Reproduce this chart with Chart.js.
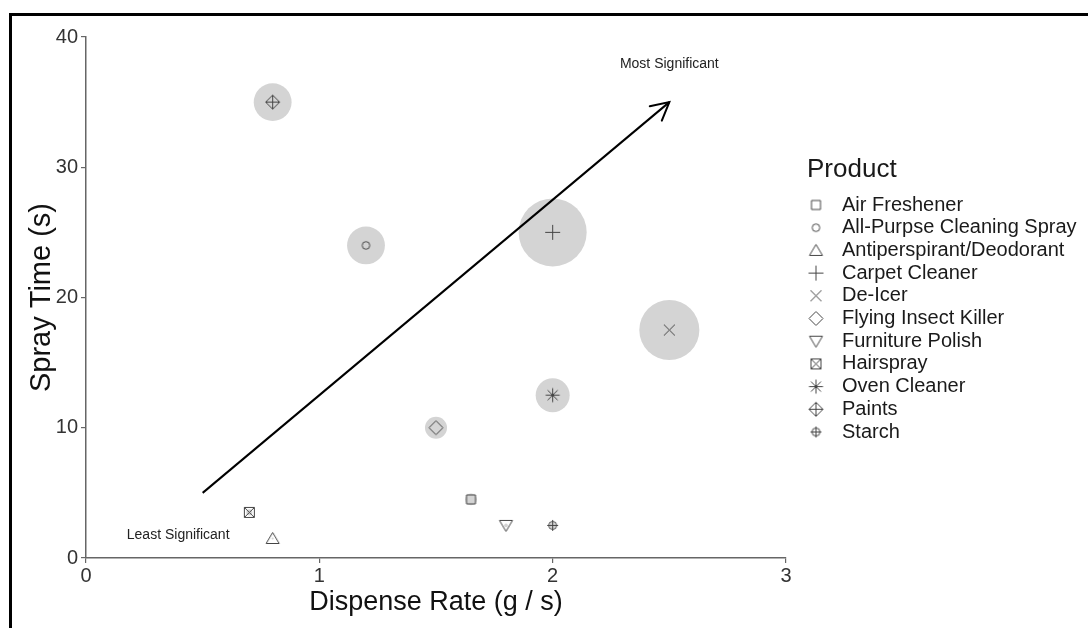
<!DOCTYPE html>
<html>
<head>
<meta charset="utf-8">
<script src="https://cdn.jsdelivr.net/npm/chart.js@4.4.1/dist/chart.umd.min.js"></script>
<style>
  html, body { margin: 0; padding: 0; background: #fff; overflow: hidden; }
  #wrap { position: relative; width: 1088px; height: 628px; }
  #frame { position: absolute; left: 9px; top: 13px; width: 1200px; height: 800px;
           border-top: 3px solid #000; border-left: 3px solid #000; pointer-events: none; }
  canvas { position: absolute; left: 0; top: 0; }
</style>
</head>
<body>
<div id="wrap">
  <canvas id="c" width="1088" height="628"></canvas>
  <div id="frame"></div>
</div>
<script>
// ---------------- data ----------------
const categories = ['Air Freshener', 'All-Purpse Cleaning Spray', 'Antiperspirant/Deodorant',
  'Carpet Cleaner', 'De-Icer', 'Flying Insect Killer', 'Furniture Polish', 'Hairspray',
  'Oven Cleaner', 'Paints', 'Starch'];
const dispenseRate = [1.65, 1.2, 0.8, 2.0, 2.5, 1.5, 1.8, 0.7, 2.0, 0.8, 2.0];
const sprayTime    = [4.5, 24, 1.5, 25, 17.5, 10, 2.5, 3.5, 12.5, 35, 2.5];
const bubbleSize   = [3, 31, 0.1, 100, 78, 10.5, 0.3, 0.8, 25, 31, 0.8];
const markerShapes = ['square', 'circle', 'triangle', 'plus', 'cross', 'diamond',
  'triangleDown', 'squareCross', 'asterisk', 'diamondPlus', 'circlePlus'];
const xTicks = [0, 1, 2, 3];
const yTicks = [0, 10, 20, 30, 40];
const arrowX = [0.5, 2.5];
const arrowY = [5, 35];
const noteText = ['Most Significant', 'Least Significant'];
const noteX = [2.5, 0.395];
const noteY = [37.9, 1.77];
const legendTitle = 'Product';
const xTitle = 'Dispense Rate (g / s)';
const yTitle = 'Spray Time (s)';

// ---------------- marker glyphs ----------------
const INK = '#444';
function makeMarker(kind) {
  const c = document.createElement('canvas');
  c.width = 21; c.height = 21;
  const g = c.getContext('2d');
  g.strokeStyle = INK; g.lineWidth = 1;
  g.translate(10.5, 10.5);
  g.beginPath();
  const plus = (s) => { g.moveTo(-s, 0); g.lineTo(s, 0); g.moveTo(0, -s); g.lineTo(0, s); };
  const cross = (s) => { g.moveTo(-s, -s); g.lineTo(s, s); g.moveTo(s, -s); g.lineTo(-s, s); };
  const diamond = (s) => { g.moveTo(0, -s); g.lineTo(s, 0); g.lineTo(0, s); g.lineTo(-s, 0); g.closePath(); };
  switch (kind) {
    case 'square': g.rect(-4.5, -4.5, 9, 9); break;
    case 'circle': g.arc(0, 0, 3.8, 0, Math.PI * 2); break;
    case 'triangle': g.moveTo(0, -6); g.lineTo(6.5, 5); g.lineTo(-6.5, 5); g.closePath(); break;
    case 'plus': plus(7.5); break;
    case 'cross': cross(5.5); break;
    case 'diamond': diamond(7); break;
    case 'triangleDown': g.moveTo(0, 6); g.lineTo(6.5, -5); g.lineTo(-6.5, -5); g.closePath(); break;
    case 'squareCross': g.rect(-5, -5, 10, 10); cross(5); break;
    case 'asterisk': plus(7); cross(5); break;
    case 'diamondPlus': diamond(7); plus(7); break;
    case 'circlePlus': g.arc(0, 0, 4, 0, Math.PI * 2); g.moveTo(-5.5, 0); g.lineTo(5.5, 0); g.moveTo(0, -5.5); g.lineTo(0, 5.5); break;
  }
  g.stroke();
  return c;
}
const markerImgs = markerShapes.map(makeMarker);

// ---------------- datasets ----------------
const points = categories.map((_, i) => ({ x: dispenseRate[i], y: sprayTime[i] }));
const bubbles = categories.map((_, i) => ({ x: dispenseRate[i], y: sprayTime[i], r: 3.4 * Math.sqrt(bubbleSize[i]) }));
const arrowPts = arrowX.map((x, i) => ({ x, y: arrowY[i] }));

const FONT = "'Liberation Sans', Arial, sans-serif";

const extrasPlugin = {
  id: 'extras',
  afterDatasetsDraw(chart) {
    const ctx = chart.ctx;
    const xs = chart.scales.x, ys = chart.scales.y;
    // arrow head
    const meta = chart.getDatasetMeta(1);
    const p0 = meta.data[0], p1 = meta.data[1];
    const ang = Math.atan2(p1.y - p0.y, p1.x - p0.x);
    const L = 20, a = 28 * Math.PI / 180;
    ctx.save();
    ctx.strokeStyle = '#000'; ctx.lineWidth = 2; ctx.lineCap = 'round';
    ctx.beginPath();
    ctx.moveTo(p1.x + L * Math.cos(ang + Math.PI - a), p1.y + L * Math.sin(ang + Math.PI - a));
    ctx.lineTo(p1.x, p1.y);
    ctx.lineTo(p1.x + L * Math.cos(ang + Math.PI + a), p1.y + L * Math.sin(ang + Math.PI + a));
    ctx.stroke();
    // notes
    ctx.fillStyle = '#222';
    ctx.font = '14px ' + FONT;
    ctx.textAlign = 'center'; ctx.textBaseline = 'middle';
    noteText.forEach((t, i) => ctx.fillText(t, xs.getPixelForValue(noteX[i]), ys.getPixelForValue(noteY[i])));
    // legend
    ctx.textAlign = 'left';
    ctx.fillStyle = '#1a1a1a';
    ctx.font = '26px ' + FONT;
    ctx.fillText(legendTitle, 807, 170);
    ctx.font = '20px ' + FONT;
    categories.forEach((name, i) => {
      const yy = 205 + i * 22.7;
      const img = markerImgs[i];
      ctx.drawImage(img, 816 - img.width / 2, yy - img.height / 2);
      ctx.fillText(name, 842, yy);
    });
    ctx.restore();
  }
};

const axisColor = '#666';
const tickColor = '#333';

new Chart(document.getElementById('c'), {
  type: 'scatter',
  data: {
    datasets: [
      {
        type: 'scatter', label: 'markers', data: points,
        pointStyle: markerImgs, pointRadius: 6, pointHoverRadius: 6
      },
      {
        type: 'line', label: 'arrow', data: arrowPts,
        borderColor: '#000', borderWidth: 2, pointRadius: 0, showLine: true, fill: false
      },
      {
        type: 'bubble', label: 'bubbles', data: bubbles,
        backgroundColor: '#d4d4d4', borderWidth: 0, hoverRadius: 0
      }
    ]
  },
  options: {
    responsive: false,
    animation: false,
    devicePixelRatio: 1,
    events: [],
    layout: { padding: { top: 37, right: 302, bottom: 0, left: 0 } },
    plugins: { legend: { display: false }, tooltip: { enabled: false } },
    scales: {
      x: {
        type: 'linear', min: 0, max: 3,
        afterBuildTicks: (s) => { s.ticks = xTicks.map(v => ({ value: v })); },
        afterFit: (s) => { s.height = 70; },
        grid: { display: true, drawOnChartArea: false, drawTicks: true, tickLength: 5, color: axisColor, lineWidth: 1.2 },
        border: { display: true, color: axisColor, width: 1.5 },
        ticks: { color: tickColor, font: { family: FONT, size: 20 }, padding: 1, maxRotation: 0 },
        title: { display: true, text: xTitle, color: '#111', font: { family: FONT, size: 27 }, padding: { top: 0, bottom: 9 } }
      },
      y: {
        type: 'linear', min: 0, max: 40,
        afterBuildTicks: (s) => { s.ticks = yTicks.map(v => ({ value: v })); },
        afterFit: (s) => { s.width = 86; },
        grid: { display: true, drawOnChartArea: false, drawTicks: true, tickLength: 5, color: axisColor, lineWidth: 1.2 },
        border: { display: true, color: axisColor, width: 1.5 },
        ticks: { color: tickColor, font: { family: FONT, size: 20 }, padding: 3 },
        title: { display: true, text: yTitle, color: '#111', font: { family: FONT, size: 29 }, padding: { top: 25, bottom: 0 } }
      }
    }
  },
  plugins: [extrasPlugin]
});
</script>
</body>
</html>
